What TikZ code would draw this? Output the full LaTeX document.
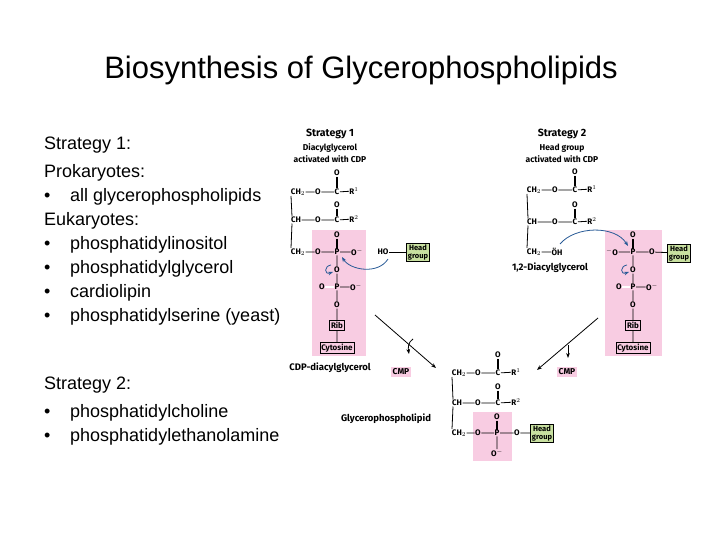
\documentclass[tikz,border=0pt]{standalone}
\usepackage{fontspec}
\usetikzlibrary{arrows.meta}
\setmainfont{Liberation Sans}
\newfontfamily\chemf{Fira Sans}
\definecolor{pinkbg}{RGB}{248,204,226}
\definecolor{greenbg}{RGB}{200,224,160}
\definecolor{arrblue}{RGB}{40,90,150}
\begin{document}
\begin{tikzpicture}[x=1pt,y=-1pt,
  txt/.style={anchor=west,inner sep=0,font=\fontsize{18}{20}\selectfont},
  atom/.style={inner sep=0.4pt,font=\chemf\bfseries\fontsize{8}{9}\selectfont},
  lbl/.style={inner sep=0,font=\chemf\bfseries\fontsize{9.5}{10}\selectfont,align=center},
  bnd/.style={line width=0.8pt},
  dbl/.style={line width=0.7pt,transform canvas={xshift=-0.9pt},postaction={draw,transform canvas={xshift=0.9pt}}},
  boxn/.style={atom,draw,line width=0.6pt,inner sep=1.5pt},
  headg/.style={atom,draw,line width=0.6pt,fill=greenbg,align=center,inner sep=1.5pt,font=\chemf\bfseries\fontsize{7.5}{8}\selectfont},
  cmp/.style={atom,fill=pinkbg,inner sep=2pt,font=\chemf\bfseries\fontsize{8.5}{9}\selectfont},
  rarr/.style={line width=0.8pt,-{Stealth[length=5pt]}},
  barr/.style={line width=0.8pt,arrblue,-{Stealth[length=5pt]}}]
\useasboundingbox (0,0) rectangle (720,540);
% title and left text
\node[inner sep=0,font=\fontsize{31}{34}\selectfont] (title) at (361,70) {Biosynthesis of Glycerophospholipids};
\node[txt] (t1) at (44,145) {Strategy 1:};
\node[txt] (t2) at (44,173) {Prokaryotes:};
\node[txt] (b1) at (44,197) {•};\node[txt] (t3) at (70,197) {all glycerophospholipids};
\node[txt] (t4) at (44,221) {Eukaryotes:};
\node[txt] (b2) at (44,245) {•};\node[txt] (t5) at (70,245) {phosphatidylinositol};
\node[txt] (b3) at (44,269) {•};\node[txt] (t6) at (70,269) {phosphatidylglycerol};
\node[txt] (b4) at (44,293) {•};\node[txt] (t7) at (70,293) {cardiolipin};
\node[txt] (b5) at (44,317) {•};\node[txt] (t8) at (70,317) {phosphatidylserine (yeast)};
\node[txt] (t9) at (44,385) {Strategy 2:};
\node[txt] (b6) at (44,413) {•};\node[txt] (t10) at (70,413) {phosphatidylcholine};
\node[txt] (b7) at (44,437) {•};\node[txt] (t11) at (70,437) {phosphatidylethanolamine};
% ---------- Strategy 1 ----------
\fill[pinkbg] (312,230) rectangle (366,356);
\node[lbl,font=\chemf\bfseries\fontsize{10.5}{11}\selectfont] (h1) at (330,134) {Strategy 1};
\node[lbl,font=\chemf\bfseries\fontsize{8.5}{12}\selectfont] (h1b) at (330,153) {Diacylglycerol\\activated with CDP};
\node[atom] (a1) at (298,192) {CH$_2$};
\node[atom] (a2) at (318,192) {O};
\node[atom] (a3) at (337,192) {C};
\node[atom] (a4) at (354,191) {R$^1$};
\node[atom] (a5) at (337,173) {O};
\node[atom] (b1x) at (296,220) {CH};
\node[atom] (bb2) at (318,220) {O};
\node[atom] (bb3) at (337,220) {C};
\node[atom] (bb4) at (354,219) {R$^2$};
\node[atom] (bb5) at (337,205) {O};
\node[atom] (c1) at (298,252) {CH$_2$};
\node[atom] (c2) at (318,252) {O};
\node[atom] (c3) at (337,252) {P};
\node[atom] (c4) at (357,252) {O$^-$};
\node[atom] (c5) at (337,235) {O};
\node[atom] (d1) at (337,270) {O};
\node[atom] (e1) at (322,287) {O};
\node[atom] (e2) at (337,287) {P};
\node[atom] (e3) at (356,287) {O$^-$};
\node[atom] (f1) at (337,305) {O};
\node[boxn] (rib1) at (337,325) {Rib};
\node[boxn] (cyt1) at (337,348) {Cytosine};
\draw[bnd] (a1)--(a2) (a2)--(a3) (a3)--(a4) (b1x)--(bb2) (bb2)--(bb3) (bb3)--(bb4)
  (c1)--(c2) (c2)--(c3) (c3)--(c4) (c3)--(d1) (d1)--(e2) (e2)--(e3) (e2)--(f1) (f1)--(rib1) (rib1)--(cyt1);
\draw[dbl] (a5)--(a3); \draw[dbl] (bb5)--(bb3); \draw[dbl] (c5)--(c3);
\draw[bnd,double,double distance=1.2pt,line width=0.5pt] (e1)--(e2);
\draw[bnd] ([xshift=-7pt]a1.south) -- ([xshift=-4pt]b1x.north);
\draw[bnd] ([xshift=-4pt]b1x.south) -- ([xshift=-7pt]c1.north);
\node[atom] (ho1) at (383,252) {HO};
\node[headg] (hg1) at (418,252) {Head\\group};
\draw[bnd] (ho1)--(hg1);
\draw[barr] (388,259) .. controls (378,275) and (350,270) .. (342,257);
\draw[barr] (331,265) .. controls (324,266) and (324,275) .. (333,272);
\node[lbl] (cdp) at (330,368) {CDP-diacylglycerol};
\node[cmp] (cmp1) at (401,372) {CMP};
\coordinate (r1s) at (375,315); \coordinate (r1e) at (436,368);
\draw[rarr] (r1s) -- (r1e);
\draw[rarr] (413,339) .. controls (408,342) and (408,348) .. (409,354);
% ---------- Strategy 2 ----------
\fill[pinkbg] (605,230) rectangle (662,356);
\node[lbl,font=\chemf\bfseries\fontsize{10.5}{11}\selectfont] (h2) at (562,134) {Strategy 2};
\node[lbl,font=\chemf\bfseries\fontsize{8.5}{12}\selectfont] (h2b) at (562,153) {Head group\\activated with CDP};
\node[atom] (g1) at (534,190) {CH$_2$};
\node[atom] (g2) at (555,190) {O};
\node[atom] (g3) at (575,190) {C};
\node[atom] (g4) at (592,189) {R$^1$};
\node[atom] (g5) at (575,172) {O};
\node[atom] (hh1) at (532,222) {CH};
\node[atom] (hh2) at (555,222) {O};
\node[atom] (hh3) at (575,222) {C};
\node[atom] (hh4) at (592,221) {R$^2$};
\node[atom] (hh5) at (575,205) {O};
\node[atom] (i1) at (534,252) {CH$_2$};
\node[atom] (i2) at (557,252) {\"OH};
\node[lbl] (dag) at (550,268) {1,2-Diacylglycerol};
\draw[bnd] (g1)--(g2) (g2)--(g3) (g3)--(g4) (hh1)--(hh2) (hh2)--(hh3) (hh3)--(hh4) (i1)--(i2);
\draw[dbl] (g5)--(g3); \draw[dbl] (hh5)--(hh3);
\draw[bnd] ([xshift=-7pt]g1.south) -- ([xshift=-4pt]hh1.north);
\draw[bnd] ([xshift=-4pt]hh1.south) -- ([xshift=-7pt]i1.north);
\node[atom] (j1) at (612,252) {$^-$O};
\node[atom] (j2) at (633,252) {P};
\node[atom] (j3) at (652,252) {O};
\node[atom] (j4) at (633,235) {O};
\node[headg] (hg2) at (679,253) {Head\\group};
\node[atom] (k1) at (633,270) {O};
\node[atom] (l1) at (619,287) {O};
\node[atom] (l2) at (633,287) {P};
\node[atom] (l3) at (652,287) {O$^-$};
\node[atom] (m1) at (633,305) {O};
\node[boxn] (rib2) at (633,325) {Rib};
\node[boxn] (cyt2) at (633,348) {Cytosine};
\draw[bnd] (j1)--(j2) (j2)--(j3) (j3)--(hg2) (j2)--(k1) (k1)--(l2) (l2)--(l3) (l2)--(m1) (m1)--(rib2) (rib2)--(cyt2);
\draw[dbl] (j4)--(j2);
\draw[bnd,double,double distance=1.2pt,line width=0.5pt] (l1)--(l2);
\draw[barr] (560,244) .. controls (575,226) and (615,225) .. (628,246);
\draw[barr] (627,265) .. controls (620,266) and (620,275) .. (629,272);
\node[cmp] (cmp2) at (567,372) {CMP};
\coordinate (r2s) at (598,318); \coordinate (r2e) at (537,370);
\draw[rarr] (r2s) -- (r2e);
\draw[rarr] (568,345) -- (568,358);
% ---------- Product ----------
\fill[pinkbg] (473,412) rectangle (512,461);
\node[atom] (p1) at (459,373) {CH$_2$};
\node[atom] (p2) at (478,373) {O};
\node[atom] (p3) at (498,373) {C};
\node[atom] (p4) at (516,372) {R$^1$};
\node[atom] (p5) at (498,355) {O};
\node[atom] (q1) at (457,403) {CH};
\node[atom] (q2) at (478,403) {O};
\node[atom] (q3) at (498,403) {C};
\node[atom] (q4) at (516,402) {R$^2$};
\node[atom] (q5) at (498,387) {O};
\node[atom] (s1) at (459,433) {CH$_2$};
\node[atom] (s2) at (478,433) {O};
\node[atom] (s3) at (497,433) {P};
\node[atom] (s4) at (517,433) {O};
\node[atom] (s5) at (497,417) {O};
\node[atom] (s6) at (497,453) {O$^-$};
\node[headg] (hg3) at (542,433) {Head\\group};
\node[lbl] (gpl) at (386,419) {Glycerophospholipid};
\draw[bnd] (p1)--(p2) (p2)--(p3) (p3)--(p4) (q1)--(q2) (q2)--(q3) (q3)--(q4)
  (s1)--(s2) (s2)--(s3) (s3)--(s4) (s4)--(hg3) (s3)--(s6);
\draw[dbl] (p5)--(p3); \draw[dbl] (q5)--(q3); \draw[dbl] (s5)--(s3);
\draw[bnd] ([xshift=-7pt]p1.south) -- ([xshift=-4pt]q1.north);
\draw[bnd] ([xshift=-4pt]q1.south) -- ([xshift=-7pt]s1.north);
\end{tikzpicture}
\end{document}
